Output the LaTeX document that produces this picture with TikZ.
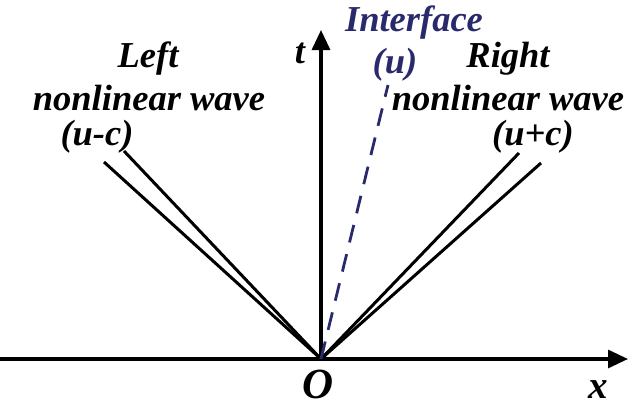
\documentclass[tikz,border=0pt]{standalone}
\usepackage{fontspec}
\setmainfont{Liberation Serif}
\usetikzlibrary{arrows.meta}
\definecolor{ifcol}{RGB}{40,42,108}
\begin{document}
\begin{tikzpicture}[x=1pt,y=-1pt,
  lbl/.style={inner sep=0pt,anchor=base,font=\fontsize{36.5}{36.5}\selectfont\bfseries\itshape},
  axis/.style={line width=3.2pt,-{Triangle[length=20pt,width=18pt]}},
  wave/.style={line width=3pt},
  iface/.style={line width=2.8pt,color=ifcol,dash pattern=on 18pt off 12pt}]
\useasboundingbox (0,0) rectangle (638,415);
\coordinate (O) at (321,359);
\coordinate (xs) at (0,359);
\coordinate (xe) at (628,359);
\coordinate (te) at (321,30);
\coordinate (L1) at (104,162);
\coordinate (L2) at (124,151);
\coordinate (R1) at (519,153);
\coordinate (R2) at (541,163);
\coordinate (I) at (388,85);
\draw[axis] (xs) -- (xe);
\draw[axis] (O) -- (te);
\draw[wave] (O) -- (L1);
\draw[wave] (O) -- (L2);
\draw[wave] (O) -- (R1);
\draw[wave] (O) -- (R2);
\draw[iface] (O) -- (I);
\node[lbl] (left) at (148,67) {Left};
\node[lbl] (lnw) at (149,110) {nonlinear wave};
\node[lbl] (lsp) at (97,145) {(\textit{u}-\textit{c})};
\node[lbl] (tl) at (300,63) {t};
\node[lbl,text=ifcol] (ifl) at (414,31) {Interface};
\node[lbl,text=ifcol] (ifu) at (395,73) {(\textit{u})};
\node[lbl] (right) at (508,67) {Right};
\node[lbl] (rnw) at (508,110) {nonlinear wave};
\node[lbl] (rsp) at (533,145) {(\textit{u}+\textit{c})};
\node[lbl,font=\fontsize{43}{43}\selectfont\bfseries\itshape] (ol) at (318,398) {O};
\node[lbl,font=\fontsize{39}{39}\selectfont\bfseries\itshape] (xl) at (598,398) {x};
\end{tikzpicture}
\end{document}
